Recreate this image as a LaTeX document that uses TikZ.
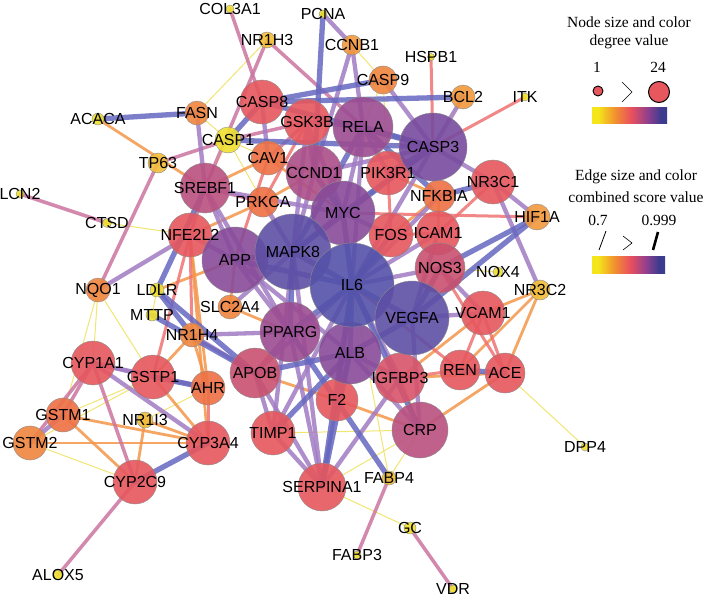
\documentclass[tikz,border=0pt]{standalone}
\usepackage{fontspec}
\setmainfont{Liberation Serif}
\newfontfamily\labfont{Liberation Sans}
\pgfdeclarelayer{bglayer}
\pgfdeclarelayer{edgelayer}
\pgfsetlayers{bglayer,edgelayer,main}
% node colours
\definecolor{cY}{HTML}{F0E030}
\definecolor{cYO}{HTML}{F2BE38}
\definecolor{cO1}{HTML}{F2983C}
\definecolor{cO2}{HTML}{F0863F}
\definecolor{cO3}{HTML}{EE7145}
\definecolor{cR}{HTML}{E6575E}
\definecolor{cR2}{HTML}{D8546A}
\definecolor{cM1}{HTML}{C9506F}
\definecolor{cM2}{HTML}{BA5080}
\definecolor{cM3}{HTML}{AC4E89}
\definecolor{cP1}{HTML}{9C4C92}
\definecolor{cP2}{HTML}{884B99}
\definecolor{cP3}{HTML}{784B9E}
\definecolor{cB1}{HTML}{5E4FA5}
\definecolor{cB2}{HTML}{5452A9}
% edge colours
\definecolor{kY}{HTML}{F0E25A}
\definecolor{kO}{HTML}{F4964A}
\definecolor{kR}{HTML}{F07272}
\definecolor{kP}{HTML}{CC74A0}
\definecolor{kV}{HTML}{A07CC4}
\definecolor{kB}{HTML}{6668C0}
% gradient colours
\definecolor{gY}{HTML}{F4E61A}
\definecolor{gO}{HTML}{F2922E}
\definecolor{gR}{HTML}{E9505E}
\definecolor{gP}{HTML}{8E3F8E}
\definecolor{gB}{HTML}{3C3B8E}
\pgfdeclarehorizontalshading{gradbar}{100bp}{color(0bp)=(gY); color(25bp)=(gY); color(29bp)=(gY); color(40bp)=(gO); color(51bp)=(gR); color(62.5bp)=(gP); color(71bp)=(gB); color(75bp)=(gB); color(100bp)=(gB)}
\tikzset{
  nd/.style={circle, inner sep=0pt, draw=black!45, line width=0.4pt, fill opacity=0.9},
  lab/.style={inner sep=0pt, text=black, font={\labfont\fontsize{16}{17}\selectfont}},
  leg/.style={inner sep=0pt, text=black, font={\fontsize{15.5}{17}\selectfont}},
  edgebase/.style={draw opacity=0.85, line cap=round},
  eYe/.style={edgebase, draw=kY, line width=1pt},
  eOr/.style={edgebase, draw=kO, line width=2.8pt},
  eRd/.style={edgebase, draw=kR, line width=3pt},
  ePk/.style={edgebase, draw=kP, line width=3.5pt},
  eVi/.style={edgebase, draw=kV, line width=4.3pt},
  eBl/.style={edgebase, draw=kB, line width=5.3pt},
}
\begin{document}
\begin{tikzpicture}[x=1pt,y=-1pt]
\begin{pgfonlayer}{bglayer}
\fill[white] (0,0) rectangle (707,600);
\end{pgfonlayer}
\useasboundingbox (0,0) rectangle (707,600);

% ---------- nodes ----------
\foreach \nm/\xx/\yy/\rr/\cc in {
COL3A1/230/9/4/cY, PCNA/323/14/4/cY, HSPB1/431/57/3.5/cY, ITK/525/97/4/cY,
ACACA/98/119/6/cY, LCN2/20/194/4/cY, CTSD/107/223/4.5/cY, NOX4/498/272/5/cY,
LDLR/157/290/7/cY, MTTP/152/315/6/cY, DPP4/585/447/4/cY, GC/410/528/6/cY,
FABP3/357/555/4/cY, VDR/453/589/4/cY, ALOX5/58/575/5/cY, CASP1/228/140/13/cY,
NR1H3/267/40/8/cYO, TP63/158/163/10/cYO, NR3C2/540/290/10/cYO, NR1I3/145/420/8/cYO, FABP4/389/478/7/cYO,
CCNB1/352/45/10/cO1, BCL2/463/97/12/cO1, HIF1A/537/217/13/cO1,
FASN/197/113/12/cO2, CASP9/383/80/14/cO2, NQO1/98/290/12/cO2, SLC2A4/230/307/12/cO2,
NR1H4/192/335/12/cO2, GSTM2/30/443/17/cO2,
CAV1/268/158/17/cO3, PRKCA/263/202/15/cO3, NFKBIA/439/196/16/cO3, AHR/208/388/17/cO3, GSTM1/63/415/17/cO3,
CASP8/262/102/22/cR, GSK3B/307/122/23/cR, PIK3R1/388/173/22/cR, NR3C1/493/182/22/cR,
FOS/391/235/22/cR, ICAM1/438/233/22/cR, NFE2L2/190/235/22/cR, VCAM1/483/313/22/cR,
REN/460/370/20/cR, ACE/505/373/20/cR, CYP1A1/93/363/22/cR, GSTP1/153/377/22/cR,
CYP3A4/208/443/22/cR, CYP2C9/135/482/22/cR, F2/337/400/21/cR, TIMP1/273/433/22/cR, SERPINA1/322/487/24/cR,
IGFBP3/400/378/25/cR2, APOB/255/373/25/cM1, NOS3/440/268/25/cM1, SREBF1/205/188/25/cM2,
CRP/420/430/28/cM2, CCND1/314/173/28/cM3, RELA/363/127/30/cP1, CASP3/433/147/34/cP3,
APP/235/260/33/cP2, MYC/343/213/32/cP2, MAPK8/293/252/38/cB1, ALB/350/353/31/cP2,
PPARG/290/332/30/cP1, IL6/352/285/42/cB2, VEGFA/412/318/37/cB1}
  \node[nd, minimum size=\rr*2pt, fill=\cc] (\nm) at (\xx,\yy) {};

% ---------- edges ----------
\begin{pgfonlayer}{edgelayer}
\foreach \a/\b in {FASN/NR1H3, FASN/CASP1, CTSD/NFE2L2, NQO1/CYP1A1, NQO1/GSTP1, NQO1/GSTM1,
  LDLR/MTTP, GSTM2/CYP2C9, GSTM2/GSTP1, GSTM1/GSTP1, TIMP1/CRP, SERPINA1/CRP, SERPINA1/GC,
  FABP4/IL6, ACE/DPP4, CCNB1/CASP9, CASP1/CAV1, CASP1/SREBF1, NR1I3/AHR, NOX4/NOS3,
  CASP9/RELA, CASP9/PIK3R1, PRKCA/CASP1, FABP4/CRP, BCL2/CASP3}
  \draw[eYe] (\a.center) -- (\b.center);
\foreach \a/\b in {ACACA/SREBF1, APOB/F2, F2/CRP, NFE2L2/AHR, NR1H4/GSTP1, GSTM1/CYP3A4,
  GSTM1/CYP2C9, NR1I3/CYP3A4, NR1I3/CYP2C9, NR3C2/ACE, NR3C2/REN, NR3C2/VCAM1, APP/LDLR,
  SLC2A4/PPARG, SLC2A4/APP, NFE2L2/PRKCA, PRKCA/CCND1, CAV1/CCND1, CRP/IGFBP3, CRP/ACE,
  AHR/NR1H4, GSTM2/CYP3A4, NFKBIA/PIK3R1, NFKBIA/ICAM1, FOS/NFKBIA, CAV1/SREBF1,
  GSTP1/CYP3A4, VCAM1/IGFBP3, NFE2L2/CYP3A4, CAV1/MYC, ACE/IGFBP3}
  \draw[eOr] (\a.center) -- (\b.center);
\foreach \a/\b in {HSPB1/CASP3, ITK/CASP3, MYC/HIF1A, NFE2L2/GSTP1, PIK3R1/FOS, ICAM1/NR3C1,
  REN/VCAM1, ACE/VCAM1, REN/IL6, ACE/NOS3, APP/CAV1, GSK3B/PRKCA, AHR/CYP3A4, FOS/ICAM1,
  IGFBP3/REN, NFE2L2/NR1H4}
  \draw[eRd] (\a.center) -- (\b.center);
\foreach \a/\b in {LCN2/CTSD, CYP2C9/ALOX5, FABP4/FABP3, GC/VDR, TP63/CASP1, TP63/NQO1,
  COL3A1/CASP8, NR1H3/RELA, NR1H3/SREBF1, CYP1A1/CYP2C9, GSTM1/CYP1A1, GSTM2/CYP1A1,
  NFE2L2/SREBF1, CAV1/GSK3B, CASP1/GSK3B, PRKCA/SREBF1}
  \draw[ePk] (\a.center) -- (\b.center);
\foreach \a/\b in {CASP3/BCL2, CASP3/CASP9, PCNA/CCNB1, CCNB1/RELA, NFE2L2/NQO1, NR1H4/PPARG,
  CYP1A1/AHR, CYP1A1/GSTP1, CYP1A1/CYP3A4, GSTM1/GSTM2, NR3C1/HIF1A, NR3C1/NR3C2, NR3C1/CASP3,
  FASN/SREBF1, SERPINA1/APOB, SERPINA1/TIMP1, SERPINA1/F2, SERPINA1/IGFBP3, SERPINA1/MAPK8,
  SERPINA1/PPARG, TIMP1/IL6, TIMP1/MAPK8, TIMP1/APOB, F2/ALB, F2/IL6, CRP/ALB, CRP/VEGFA,
  APOB/PPARG, APOB/IL6, APP/PPARG, APP/SREBF1, APP/NFE2L2, SREBF1/PPARG, SREBF1/MYC,
  MAPK8/CCND1, MAPK8/GSK3B, GSK3B/CCND1, GSK3B/MYC, RELA/MYC, RELA/PIK3R1, MYC/FOS,
  ICAM1/IL6, VEGFA/ICAM1, VEGFA/VCAM1, NOS3/IL6, IGFBP3/ALB, IGFBP3/IL6, CAV1/CASP8,
  NR1H4/APOB, SLC2A4/MAPK8, PRKCA/MAPK8, VCAM1/NOS3, CASP3/CCND1, RELA/IL6, CASP3/IL6,
  NFKBIA/IL6, APP/ALB, CCNB1/CCND1, GSK3B/RELA}
  \draw[eVi] (\a.center) -- (\b.center);
\foreach \a/\b in {ACACA/FASN, CASP8/BCL2, CASP8/CASP9, CASP8/CASP3, CASP1/CASP8, CASP1/CASP3,
  LDLR/SREBF1, LDLR/APOB, MTTP/APOB, HIF1A/VEGFA, HIF1A/NOS3, NR3C1/NFKBIA, RELA/NFKBIA,
  PPARG/FABP4, SERPINA1/ALB, SERPINA1/IL6, CRP/IL6, APP/MAPK8, IL6/MAPK8, IL6/VEGFA, IL6/ALB,
  IL6/MYC, MAPK8/MYC, VEGFA/NOS3, APOB/ALB, TIMP1/ALB, CASP3/RELA, MAPK8/CASP3, CYP2C9/CYP3A4,
  GSTP1/AHR, REN/ACE, CASP3/PIK3R1, MYC/CCND1, IL6/PPARG, PCNA/CCND1, APP/IL6, MAPK8/PPARG,
  NR1H4/LDLR, IL6/FOS, VEGFA/ALB, MAPK8/RELA, CASP3/MYC}
  \draw[eBl] (\a.center) -- (\b.center);
\end{pgfonlayer}

% ---------- labels ----------
\foreach \nm in {COL3A1, PCNA, HSPB1, ITK, ACACA, LCN2, CTSD, NOX4, LDLR, MTTP, DPP4, GC,
  FABP3, VDR, ALOX5, CASP1, NR1H3, TP63, NR3C2, NR1I3, FABP4, CCNB1, BCL2, HIF1A, FASN, CASP9,
  NQO1, SLC2A4, NR1H4, GSTM2, CAV1, PRKCA, NFKBIA, AHR, GSTM1, CASP8, GSK3B, PIK3R1, NR3C1,
  FOS, ICAM1, NFE2L2, VCAM1, REN, ACE, CYP1A1, GSTP1, CYP3A4, CYP2C9, F2, TIMP1, SERPINA1,
  IGFBP3, APOB, NOS3, SREBF1, CRP, CCND1, RELA, CASP3, APP, MYC, MAPK8, ALB, PPARG, IL6, VEGFA}
  \node[lab] at (\nm) {\nm};

% ---------- legend ----------
\node[leg] at (629,22) {Node size and color};
\node[leg] at (629,42) {degree value};
\node[leg] at (597,67) {1};
\node[leg] at (658,67) {24};
\draw[fill=cR, line width=0.9pt] (598,91) circle (5);
\draw[line width=0.6pt] (622,82) -- (632,92) -- (622,102);
\draw[fill=cR, line width=1pt] (659,92) circle (10.5);
\shade[shading=gradbar] (592,107) rectangle (667,123);

\node[leg] at (636,177) {Edge size and color};
\node[leg] at (636,197) {combined score value};
\node[leg] at (598,220) {0.7};
\node[leg] at (659,220) {0.999};
\draw[line width=0.8pt] (606,231) -- (599,250);
\draw[line width=0.6pt] (623,236) -- (632,243) -- (623,250);
\draw[line width=2.6pt] (658,232) -- (653,250);
\shade[shading=gradbar] (592,256) rectangle (665,273);
\end{tikzpicture}
\end{document}
